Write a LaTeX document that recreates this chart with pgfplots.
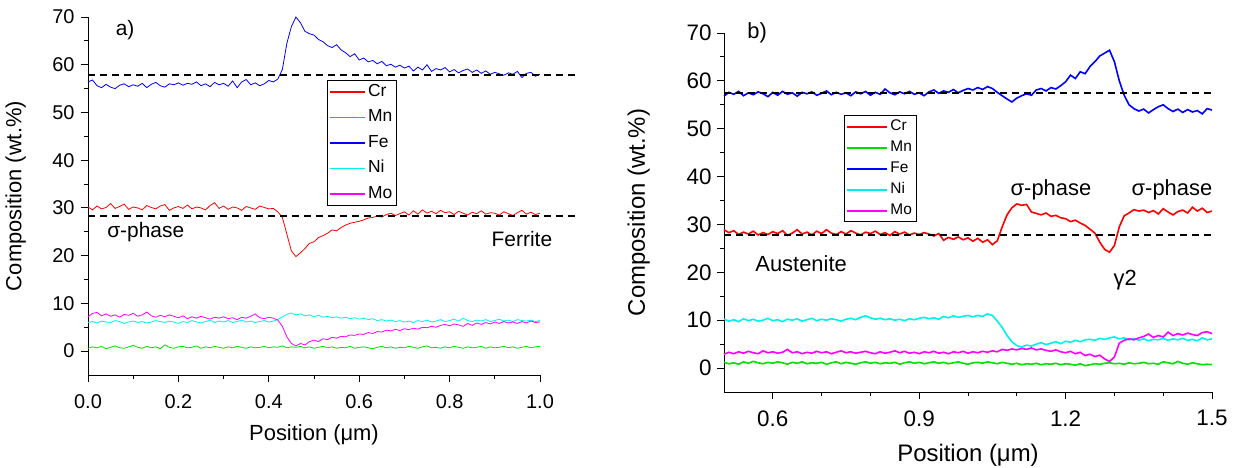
\documentclass[border=0pt]{standalone}
\usepackage{fontspec}
\setmainfont{Liberation Sans}
\usepackage{pgfplots}
\usepackage{pgfplotstable}
\pgfplotsset{compat=1.18}

\definecolor{cCr}{RGB}{255,0,0}
\definecolor{cMn}{RGB}{0,225,0}
\definecolor{cFe}{RGB}{0,0,255}
\definecolor{cNi}{RGB}{0,240,240}
\definecolor{cMo}{RGB}{255,0,255}

% a) sigma-phase / ferrite line scan
\pgfplotstableread{
x Cr Mn Fe Ni Mo
0.00 30.2 0.6 56.4 6.0 7.2
0.01 29.6 0.9 56.8 6.2 7.9
0.02 30.4 0.7 55.6 5.9 8.1
0.03 29.8 1.0 55.2 6.3 7.4
0.04 30.1 0.5 55.9 6.1 7.8
0.05 30.9 0.8 55.3 6.0 7.3
0.06 29.9 1.1 55.0 6.4 7.6
0.07 30.3 0.7 55.7 6.2 7.1
0.08 30.8 0.6 56.0 5.8 7.7
0.09 29.7 0.9 55.4 6.1 7.5
0.10 30.2 1.2 55.8 6.3 7.9
0.11 30.0 0.8 55.5 6.0 7.3
0.12 29.6 0.6 56.1 6.2 7.6
0.13 30.5 1.0 55.2 5.9 8.2
0.14 30.1 0.7 55.9 6.1 7.4
0.15 29.8 0.9 56.3 6.4 7.1
0.16 30.4 0.5 55.6 6.2 7.5
0.17 30.7 1.3 55.3 6.0 7.2
0.18 29.5 0.8 56.0 6.3 7.6
0.19 30.0 0.6 55.8 6.1 7.3
0.20 30.3 0.9 56.2 5.8 7.0
0.21 29.9 1.0 55.7 6.2 7.4
0.22 30.6 0.7 56.1 6.0 6.8
0.23 29.8 0.8 55.9 6.4 7.2
0.24 30.2 1.1 56.4 6.1 6.9
0.25 30.0 0.6 55.6 5.9 7.3
0.26 29.6 0.9 56.0 6.2 7.0
0.27 30.5 0.7 55.4 6.5 6.7
0.28 31.1 1.0 56.3 6.0 7.1
0.29 29.9 0.8 55.8 6.3 6.9
0.30 30.4 0.6 56.1 6.1 7.2
0.31 29.7 0.9 55.5 6.4 6.8
0.32 30.2 0.7 56.6 6.0 7.0
0.33 30.0 1.0 55.2 6.2 6.6
0.34 29.5 0.8 56.4 6.5 7.1
0.35 30.3 0.6 56.9 6.1 6.9
0.36 30.0 0.9 55.8 6.3 7.3
0.37 29.7 0.7 56.2 6.0 7.8
0.38 30.4 0.8 55.6 6.2 7.0
0.39 30.1 1.0 56.0 6.4 6.8
0.40 29.8 0.7 56.7 6.1 7.1
0.41 29.9 0.9 56.4 6.3 6.9
0.42 29.2 0.8 57.0 6.6 6.5
0.43 28.0 1.1 59.0 7.2 5.2
0.44 24.5 0.7 64.5 7.7 3.0
0.45 21.0 0.9 68.0 8.0 1.6
0.46 19.8 0.8 70.0 7.6 1.1
0.47 20.6 1.0 68.8 7.8 1.6
0.48 21.5 0.7 67.0 7.4 1.3
0.49 22.6 0.9 66.5 7.6 2.0
0.50 22.9 0.6 66.2 7.2 2.3
0.51 23.8 0.8 65.3 7.5 2.0
0.52 24.2 1.0 64.8 7.1 2.6
0.53 24.7 0.7 64.0 7.3 2.4
0.54 25.4 0.9 63.6 7.0 2.9
0.55 25.2 0.6 64.2 7.2 2.7
0.56 25.9 0.8 63.1 6.9 3.1
0.57 26.4 0.7 62.5 7.1 3.0
0.58 26.8 1.0 61.7 6.8 3.4
0.59 27.0 0.6 62.3 7.0 3.3
0.60 27.2 0.8 61.0 6.7 3.6
0.61 27.5 0.9 61.4 6.9 3.5
0.62 27.9 0.7 60.6 6.6 3.9
0.63 28.0 0.5 60.9 6.8 3.7
0.64 28.3 0.8 60.2 6.4 4.1
0.65 28.1 1.0 60.7 6.6 4.0
0.66 28.6 0.7 59.8 6.3 4.4
0.67 28.9 0.9 60.1 6.5 4.2
0.68 28.4 0.6 59.5 6.2 4.6
0.69 28.8 0.8 59.9 6.4 4.3
0.70 29.2 0.7 59.3 6.1 4.7
0.71 28.5 1.0 59.7 6.3 4.5
0.72 29.4 0.8 58.7 6.0 4.8
0.73 28.7 0.6 59.5 6.4 4.6
0.74 29.6 0.9 58.9 6.2 5.0
0.75 28.9 1.1 60.0 6.5 4.9
0.76 29.3 0.7 58.6 6.1 5.2
0.77 28.8 0.8 59.2 6.3 5.0
0.78 29.5 0.6 58.9 6.6 5.4
0.79 29.0 0.9 59.4 6.2 5.6
0.80 29.2 0.7 58.5 6.4 5.3
0.81 28.6 1.0 59.0 6.7 5.7
0.82 29.3 0.8 58.3 6.3 5.5
0.83 28.9 0.6 58.8 6.9 5.2
0.84 28.5 0.9 59.1 6.4 5.8
0.85 29.1 0.7 58.4 6.2 5.4
0.86 28.8 0.8 58.9 6.5 5.9
0.87 29.4 1.0 58.2 6.3 5.6
0.88 28.7 0.6 58.7 6.6 6.0
0.89 29.0 0.9 58.0 6.2 5.7
0.90 28.9 0.7 58.4 6.4 6.1
0.91 28.5 0.8 58.1 6.7 5.8
0.92 29.2 1.0 57.8 6.3 6.2
0.93 28.8 0.7 58.3 6.5 5.9
0.94 28.4 0.9 58.0 6.2 6.1
0.95 29.0 0.6 58.6 6.6 5.8
0.96 29.5 0.8 57.3 6.4 6.2
0.97 28.7 1.0 58.2 6.3 5.9
0.98 29.1 0.7 58.4 6.5 6.3
0.99 28.6 0.9 57.6 6.2 6.0
1.00 28.9 1.0 58.0 6.4 6.1
}\scanA

% b) austenite / sigma / gamma2 line scan
\pgfplotstableread{
x Cr Mn Fe Ni Mo
0.50 28.9 1.2 56.8 10.2 2.9
0.51 28.3 0.9 57.6 9.8 3.3
0.52 28.7 1.1 57.2 10.1 3.0
0.53 27.9 0.8 57.8 9.7 3.4
0.54 28.4 1.3 56.9 10.3 3.1
0.55 28.0 1.0 57.5 9.9 3.5
0.56 28.6 1.4 57.1 10.2 3.2
0.57 27.8 1.1 57.7 9.8 3.0
0.58 28.3 0.9 57.3 10.0 3.6
0.59 27.9 1.2 56.7 10.4 3.2
0.60 28.5 1.0 57.6 9.9 3.4
0.61 28.1 1.3 57.0 10.1 3.1
0.62 28.7 1.1 57.8 9.7 3.3
0.63 27.7 0.8 57.2 10.2 3.9
0.64 28.2 1.2 57.5 10.0 3.2
0.65 28.9 1.0 56.8 10.3 3.4
0.66 28.0 1.3 57.6 9.8 3.0
0.67 28.4 0.9 57.3 10.1 3.3
0.68 27.8 1.1 57.7 10.4 3.1
0.69 28.6 1.0 57.0 9.9 3.5
0.70 28.1 1.2 57.4 10.2 3.2
0.71 28.9 0.8 57.9 10.0 3.4
0.72 28.2 1.1 57.1 10.3 3.0
0.73 27.9 1.3 57.6 10.1 3.3
0.74 28.5 0.9 57.2 9.8 3.6
0.75 28.0 1.2 57.5 10.2 3.2
0.76 28.7 1.0 56.9 10.4 3.4
0.77 28.2 0.8 57.7 10.1 3.1
0.78 27.8 1.1 57.3 10.6 3.3
0.79 28.4 1.3 57.8 10.9 3.5
0.80 28.1 1.0 57.0 10.5 3.2
0.81 28.6 1.2 57.6 10.2 3.0
0.82 27.9 0.9 57.2 10.4 3.4
0.83 28.3 1.1 58.3 10.1 3.1
0.84 27.7 1.0 57.5 10.3 3.3
0.85 28.5 1.2 57.1 10.0 3.6
0.86 28.0 0.8 57.7 10.2 3.2
0.87 28.4 1.1 57.3 9.9 3.5
0.88 27.8 1.3 57.8 10.3 3.1
0.89 28.2 1.0 57.2 10.1 3.3
0.90 27.9 1.2 57.5 10.4 3.0
0.91 28.3 0.9 56.9 10.6 3.4
0.92 28.0 1.1 57.7 10.3 3.2
0.93 27.6 1.3 58.1 10.5 3.5
0.94 28.1 1.0 57.4 10.2 3.1
0.95 26.7 1.2 57.9 10.8 3.3
0.96 27.3 0.9 57.6 10.5 3.0
0.97 26.9 1.1 58.2 10.9 3.4
0.98 27.4 1.3 57.5 10.6 3.2
0.99 26.8 1.0 58.0 10.8 3.5
1.00 27.2 0.8 58.4 11.0 3.1
1.01 26.5 1.1 58.1 10.7 3.4
1.02 27.1 1.2 58.6 11.0 3.2
1.03 26.3 1.0 58.2 10.8 3.5
1.04 26.8 1.3 58.8 11.3 3.3
1.05 25.8 1.1 58.4 11.0 3.6
1.06 26.6 0.9 57.6 9.8 3.4
1.07 29.5 1.2 56.9 8.5 3.9
1.08 32.0 1.0 56.2 6.8 3.7
1.09 33.5 0.8 55.6 5.5 4.0
1.10 34.3 1.0 56.4 4.7 3.8
1.11 34.0 0.7 56.9 4.4 4.1
1.12 34.2 0.9 57.3 4.8 3.9
1.13 32.6 0.8 57.0 4.6 4.2
1.14 32.3 1.0 58.1 5.0 3.8
1.15 32.0 0.7 58.4 5.3 4.0
1.16 32.4 0.9 57.9 4.9 3.7
1.17 31.7 0.8 58.6 5.2 3.5
1.18 31.9 1.0 58.3 5.5 3.8
1.19 31.4 0.7 59.0 5.1 3.4
1.20 31.2 0.9 59.8 5.6 3.2
1.21 30.6 0.8 61.2 5.4 3.5
1.22 30.9 0.6 60.5 5.8 3.0
1.23 30.3 0.9 61.9 5.5 3.3
1.24 29.8 0.5 61.5 5.9 2.6
1.25 29.0 0.7 63.0 6.0 2.9
1.26 28.2 0.9 64.0 5.8 2.4
1.27 26.3 0.8 65.2 6.2 2.7
1.28 24.8 1.0 65.8 6.0 1.9
1.29 24.2 1.1 66.4 6.3 1.4
1.30 25.6 0.9 64.0 6.5 2.3
1.31 29.5 1.0 60.0 6.1 5.2
1.32 31.8 0.8 57.0 6.3 5.8
1.33 32.4 1.1 55.0 5.9 6.1
1.34 33.1 0.9 54.2 6.2 5.9
1.35 32.8 1.0 53.7 5.8 6.3
1.36 33.0 1.2 54.1 6.1 6.6
1.37 32.5 0.9 53.3 5.7 7.1
1.38 32.9 1.0 54.0 6.0 6.4
1.39 32.2 0.8 54.6 5.9 6.8
1.40 33.3 1.3 55.0 6.2 6.5
1.41 32.6 1.1 54.2 5.8 7.5
1.42 32.0 0.9 53.6 6.1 6.8
1.43 32.7 1.4 54.1 5.9 7.2
1.44 33.0 1.0 53.4 6.2 6.9
1.45 32.4 0.8 54.0 5.8 7.3
1.46 33.6 1.1 53.5 6.0 7.0
1.47 32.8 0.9 53.8 5.7 6.8
1.48 33.4 0.7 53.1 6.3 7.4
1.49 32.5 0.8 54.2 5.9 7.6
1.50 32.8 0.7 53.9 6.1 7.2
}\scanB

\pgfplotsset{
  eds/.style={
    scale only axis, clip=false,
    axis x line=bottom, axis y line=left,
    axis line style={-, line width=1bp},
    tick align=outside, major tick length=7bp, minor tick length=4bp,
    every tick/.style={black, line width=0.9bp},
    ymin=-5, ymax=70, ytick={0,10,...,70}, minor y tick num=1,
    /pgf/number format/assume math mode=true,
    xticklabel style={/pgf/number format/fixed, /pgf/number format/fixed zerofill, /pgf/number format/precision=1},
    ylabel={Composition (wt.\%)}, xlabel={Position (μm)},
    legend cell align=left,
    xlabel style={anchor=center},
    ylabel style={anchor=center},
  },
}

\begin{document}
\begin{tikzpicture}
\useasboundingbox (0,0) rectangle (1233bp,468bp);

% ---------------- a) ----------------
\begin{axis}[eds,
  at={(88bp,93bp)}, anchor=south west,
  width=452bp, height=358bp,
  xmin=0, xmax=1, xtick={0,0.2,...,1.0}, minor x tick num=1,
  tick label style={font=\fontsize{20}{20}\selectfont},
  xticklabel style={yshift=-9bp},
  yticklabel style={xshift=-3bp},
  label style={font=\fontsize{22}{22}\selectfont},
  xlabel style={at={(axis description cs:0.5,-0.168)}},
  ylabel style={at={(axis description cs:-0.16,0.5)}},
  legend style={at={(axis description cs:0.529,0.824)}, anchor=north west,
    draw=black, line width=0.8bp, fill=white,
    font=\fontsize{17.5}{17.5}\selectfont, row sep=6.5bp,
    inner xsep=2bp, inner ysep=2bp,
    nodes={inner sep=2bp, text height=12bp, text depth=3bp}},
  legend image code/.code={\draw[line width=1.6bp, #1] (0bp,0bp) -- (35bp,0bp);},
]
\addplot[color=cCr, line width=0.8bp] table[x=x, y=Cr] {\scanA};
\addplot[color=cMn, line width=0.8bp] table[x=x, y=Mn] {\scanA};
\addplot[color=cFe, line width=0.8bp] table[x=x, y=Fe] {\scanA};
\addplot[color=cNi, line width=0.8bp] table[x=x, y=Ni] {\scanA};
\addplot[color=cMo, line width=0.8bp] table[x=x, y=Mo] {\scanA};
\legend{Cr,Mn,Fe,Ni,Mo}
\addplot[black, dash pattern=on 7bp off 5bp, line width=2bp, forget plot] coordinates {(0,57.9) (1.085,57.9)};
\addplot[black, dash pattern=on 7bp off 5bp, line width=2bp, forget plot] coordinates {(0,28.4) (1.085,28.4)};
\node[font=\fontsize{21}{21}\selectfont] at (axis cs:0.082,67.3) {a)};
\node[font=\fontsize{21}{21}\selectfont, anchor=west] at (axis cs:0.035,24.9) {σ-phase};
\node[font=\fontsize{21}{21}\selectfont] at (axis cs:0.96,23.4) {Ferrite};
\end{axis}

% ---------------- b) ----------------
\begin{axis}[eds,
  at={(724bp,76bp)}, anchor=south west,
  width=488bp, height=359bp,
  xmin=0.5, xmax=1.5, xtick={0.6,0.9,1.2,1.5}, minor x tick num=2,
  tick label style={font=\fontsize{22.5}{22.5}\selectfont},
  xticklabel style={yshift=-8bp},
  yticklabel style={xshift=-2bp},
  label style={font=\fontsize{24}{24}\selectfont},
  xlabel style={at={(axis description cs:0.5,-0.175)}},
  ylabel style={at={(axis description cs:-0.175,0.5)}},
  legend style={at={(axis description cs:0.246,0.772)}, anchor=north west,
    draw=black, line width=0.8bp, fill=white,
    font=\fontsize{15.5}{15.5}\selectfont, row sep=2.5bp,
    inner xsep=2bp, inner ysep=2bp,
    nodes={inner sep=2bp, text height=11.5bp, text depth=3bp}},
  legend image code/.code={\draw[line width=2bp, #1] (0bp,0bp) -- (40bp,0bp);},
]
\addplot[color=cCr, line width=1.6bp] table[x=x, y=Cr] {\scanB};
\addplot[color=cMn, line width=1.6bp] table[x=x, y=Mn] {\scanB};
\addplot[color=cFe, line width=1.6bp] table[x=x, y=Fe] {\scanB};
\addplot[color=cNi, line width=1.6bp] table[x=x, y=Ni] {\scanB};
\addplot[color=cMo, line width=1.6bp] table[x=x, y=Mo] {\scanB};
\legend{Cr,Mn,Fe,Ni,Mo}
\addplot[black, dash pattern=on 7bp off 5bp, line width=2bp, forget plot] coordinates {(0.5,57.5) (1.5,57.5)};
\addplot[black, dash pattern=on 7bp off 5bp, line width=2bp, forget plot] coordinates {(0.5,27.7) (1.5,27.7)};
\node[font=\fontsize{22}{22}\selectfont] at (axis cs:0.568,70) {b)};
\node[font=\fontsize{22}{22}\selectfont] at (axis cs:1.17,37.2) {σ-phase};
\node[font=\fontsize{22}{22}\selectfont] at (axis cs:1.418,37.2) {σ-phase};
\node[font=\fontsize{22}{22}\selectfont] at (axis cs:0.658,21.8) {Austenite};
\node[font=\fontsize{22}{22}\selectfont] at (axis cs:1.322,18.3) {γ2};
\end{axis}
\end{tikzpicture}
\end{document}
